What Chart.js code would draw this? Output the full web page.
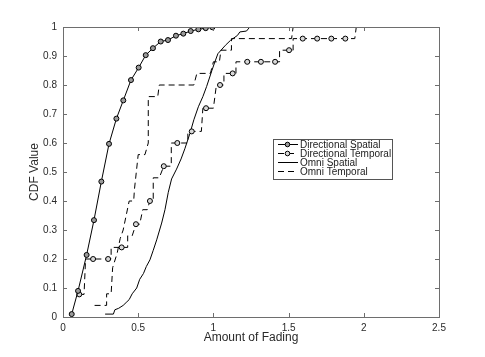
<!DOCTYPE html>
<html>
<head>
<meta charset="utf-8">
<script src="https://cdn.jsdelivr.net/npm/chart.js@4.4.1/dist/chart.umd.min.js"></script>
<style>
  html, body { margin: 0; padding: 0; background: #fff; }
</style>
</head>
<body>
<canvas id="myChart" width="485" height="357"></canvas>
<script>
//tick labels
const xTicks = [0, 0.5, 1, 1.5, 2, 2.5];
const yTicks = [0, 0.1, 0.2, 0.3, 0.4, 0.5, 0.6, 0.7, 0.8, 0.9, 1];

//series names
const seriesNames = ["Directional Spatial", "Directional Temporal", "Omni Spatial", "Omni Temporal"];

//directional spatial (every vertex has a marker)
const dirSpatialX = [0.058, 0.10, 0.157, 0.206, 0.255, 0.306, 0.355, 0.401, 0.452, 0.503, 0.55, 0.598, 0.65, 0.698, 0.751, 0.80, 0.849, 0.90, 0.949, 0.993, 1.01];
const dirSpatialY = [0.01, 0.09, 0.214, 0.334, 0.467, 0.597, 0.684, 0.747, 0.817, 0.86, 0.903, 0.927, 0.95, 0.955, 0.97, 0.977, 0.986, 0.992, 0.996, 0.999, 1.0];
const dirSpatialMark = [1, 1, 1, 1, 1, 1, 1, 1, 1, 1, 1, 1, 1, 1, 1, 1, 1, 1, 1, 1, 0];

//directional temporal (step cdf, markers on some vertices)
const dirTempX = [0.108, 0.14, 0.15, 0.2, 0.3, 0.32, 0.32, 0.39, 0.43, 0.43, 0.46, 0.485, 0.51, 0.53, 0.56, 0.578, 0.6, 0.6, 0.64, 0.67, 0.72, 0.72, 0.76, 0.83, 0.83, 0.856, 0.92, 0.93, 0.951, 1.0, 1.02, 1.044, 1.07, 1.07, 1.128, 1.15, 1.15, 1.225, 1.316, 1.41, 1.44, 1.44, 1.503, 1.53, 1.53, 1.594, 1.69, 1.784, 1.877, 1.94, 1.95, 2.0];
const dirTempY = [0.078, 0.078, 0.2, 0.2, 0.2, 0.2, 0.24, 0.24, 0.24, 0.28, 0.28, 0.32, 0.32, 0.37, 0.37, 0.40, 0.40, 0.48, 0.48, 0.52, 0.52, 0.60, 0.60, 0.60, 0.64, 0.64, 0.64, 0.72, 0.72, 0.72, 0.80, 0.80, 0.80, 0.84, 0.84, 0.84, 0.88, 0.88, 0.88, 0.88, 0.88, 0.92, 0.92, 0.92, 0.96, 0.96, 0.96, 0.96, 0.96, 0.96, 1.0, 1.0];
const dirTempMark = [1, 0, 0, 1, 1, 0, 0, 1, 0, 0, 0, 1, 0, 0, 0, 1, 0, 0, 0, 1, 0, 0, 1, 0, 0, 1, 0, 0, 1, 0, 0, 1, 0, 0, 1, 0, 0, 1, 1, 1, 0, 0, 1, 0, 0, 1, 1, 1, 1, 0, 0, 0];

//omni spatial
const omniSpatialX = [0.28, 0.335, 0.345, 0.37, 0.40, 0.42, 0.44, 0.46, 0.49, 0.51, 0.535, 0.554, 0.578, 0.60, 0.623, 0.656, 0.678, 0.70, 0.722, 0.755, 0.785, 0.81, 0.844, 0.87, 0.90, 0.93, 0.955, 0.99, 1.01, 1.03, 1.08, 1.114, 1.16, 1.176, 1.22, 1.242];
const omniSpatialY = [0.01, 0.01, 0.025, 0.03, 0.04, 0.05, 0.06, 0.08, 0.10, 0.13, 0.15, 0.174, 0.197, 0.23, 0.266, 0.324, 0.37, 0.43, 0.476, 0.51, 0.545, 0.58, 0.633, 0.68, 0.725, 0.76, 0.795, 0.85, 0.88, 0.908, 0.937, 0.954, 0.971, 0.983, 0.986, 1.0];

//omni temporal
const omniTempX = [0.21, 0.29, 0.29, 0.32, 0.33, 0.36, 0.38, 0.40, 0.42, 0.44, 0.47, 0.475, 0.50, 0.545, 0.567, 0.567, 0.63, 0.64, 0.87, 0.89, 0.98, 1.0, 1.04, 1.05, 1.12, 1.12, 1.52, 1.53, 1.6];
const omniTempY = [0.04, 0.04, 0.08, 0.08, 0.17, 0.22, 0.27, 0.30, 0.35, 0.40, 0.40, 0.44, 0.56, 0.56, 0.60, 0.76, 0.76, 0.80, 0.80, 0.84, 0.84, 0.88, 0.88, 0.92, 0.92, 0.96, 0.96, 1.0, 1.0];

function pts(xs, ys) {
  return xs.map((x, i) => ({ x: x, y: ys[i] }));
}

Chart.defaults.font.family = '"Liberation Sans", Arial, Helvetica, sans-serif';
Chart.defaults.color = "#2a2a2a";

const axisColor = "#6e6e6e";
const dash = [6, 4];

//matlab style box with inward ticks
const boxPlugin = {
  id: "box",
  afterDatasetsDraw(chart) {
    const ctx = chart.ctx;
    const a = chart.chartArea;
    const xs = chart.scales.x, ys = chart.scales.y;
    ctx.save();
    ctx.strokeStyle = axisColor;
    ctx.lineWidth = 1;
    ctx.setLineDash([]);
    ctx.strokeRect(Math.round(a.left) + 0.5, Math.round(a.top) + 0.5, Math.round(a.right - a.left), Math.round(a.bottom - a.top));
    ctx.beginPath();
    xTicks.forEach(v => {
      const px = Math.round(xs.getPixelForValue(v)) + 0.5;
      ctx.moveTo(px, a.bottom); ctx.lineTo(px, a.bottom - 4);
      ctx.moveTo(px, a.top); ctx.lineTo(px, a.top + 4);
    });
    yTicks.forEach(v => {
      const py = Math.round(ys.getPixelForValue(v)) + 0.5;
      ctx.moveTo(a.left, py); ctx.lineTo(a.left + 4, py);
      ctx.moveTo(a.right, py); ctx.lineTo(a.right - 4, py);
    });
    ctx.stroke();
    ctx.restore();
  }
};

//legend box inside the plot
const legendPlugin = {
  id: "innerLegend",
  afterDraw(chart) {
    const ctx = chart.ctx;
    const bx = 273.5, by = 139.5, bw = 119, bh = 40;
    ctx.save();
    ctx.fillStyle = "#fff";
    ctx.fillRect(bx, by, bw, bh);
    ctx.strokeStyle = "#555";
    ctx.lineWidth = 1;
    ctx.strokeRect(bx, by, bw, bh);
    const rows = [144.5, 153.5, 162.5, 171.5];
    chart.data.datasets.forEach((ds, i) => {
      const y = rows[i];
      ctx.strokeStyle = "#000";
      ctx.lineWidth = 1;
      ctx.setLineDash(ds.borderDash || []);
      ctx.beginPath();
      ctx.moveTo(278, y);
      ctx.lineTo(ds.borderDash ? 294 : 298, y);
      ctx.stroke();
      ctx.setLineDash([]);
      if (ds.legendMarker) {
        ctx.beginPath();
        ctx.arc(287.5, y, 2.3, 0, Math.PI * 2);
        ctx.fillStyle = ds.pointBackgroundColor;
        ctx.fill();
        ctx.stroke();
      }
      ctx.fillStyle = "#222";
      ctx.font = '10px "Liberation Sans", Arial, sans-serif';
      ctx.textBaseline = "middle";
      ctx.fillText(ds.label, 300, y + 0.5);
    });
    ctx.restore();
  }
};

var ctx = document.getElementById("myChart");
var myChart = new Chart(ctx, {
  type: "scatter",
  data: {
    datasets: [
      {
        label: seriesNames[0],
        data: pts(dirSpatialX, dirSpatialY),
        showLine: true,
        borderColor: "#000",
        borderWidth: 1,
        pointRadius: dirSpatialMark.map(m => m ? 2.5 : 0),
        pointBorderColor: "#000",
        pointBorderWidth: 1,
        pointBackgroundColor: "#9a9a9a",
        legendMarker: true,
      },
      {
        label: seriesNames[1],
        data: pts(dirTempX, dirTempY),
        showLine: true,
        borderColor: "#000",
        borderWidth: 1,
        borderDash: dash,
        pointRadius: dirTempMark.map(m => m ? 2.5 : 0),
        pointBorderColor: "#000",
        pointBorderWidth: 1,
        pointBackgroundColor: "#d8d8d8",
        legendMarker: true,
      },
      {
        label: seriesNames[2],
        data: pts(omniSpatialX, omniSpatialY),
        showLine: true,
        borderColor: "#000",
        borderWidth: 1,
        pointRadius: 0,
      },
      {
        label: seriesNames[3],
        data: pts(omniTempX, omniTempY),
        showLine: true,
        borderColor: "#000",
        borderWidth: 1,
        borderDash: dash,
        pointRadius: 0,
      },
    ],
  },
  options: {
    responsive: false,
    animation: false,
    events: [],
    layout: { padding: { top: 27, right: 46, left: 0, bottom: 0 } },
    plugins: {
      legend: { display: false },
      tooltip: { enabled: false },
    },
    scales: {
      x: {
        type: "linear",
        min: 0,
        max: 2.5,
        afterBuildTicks: s => { s.ticks = xTicks.map(v => ({ value: v })); },
        afterFit: s => { s.height = 40; },
        grid: { display: false, drawTicks: false },
        border: { display: false },
        ticks: { padding: 5, font: { size: 10 }, maxRotation: 0, autoSkip: false, callback: v => String(v) },
        title: { display: true, text: "Amount of Fading", font: { size: 12 }, padding: { top: 0, bottom: 12 } },
      },
      y: {
        type: "linear",
        min: 0,
        max: 1,
        afterBuildTicks: s => { s.ticks = yTicks.map(v => ({ value: v })); },
        afterFit: s => { s.width = 63; },
        grid: { display: false, drawTicks: false },
        border: { display: false },
        ticks: { padding: 6, font: { size: 10 }, autoSkip: false, callback: v => String(v) },
        title: { display: true, text: "CDF Value", font: { size: 12 }, padding: { top: 27, bottom: 0 } },
      },
    },
  },
  plugins: [boxPlugin, legendPlugin],
});
</script>
</body>
</html>
